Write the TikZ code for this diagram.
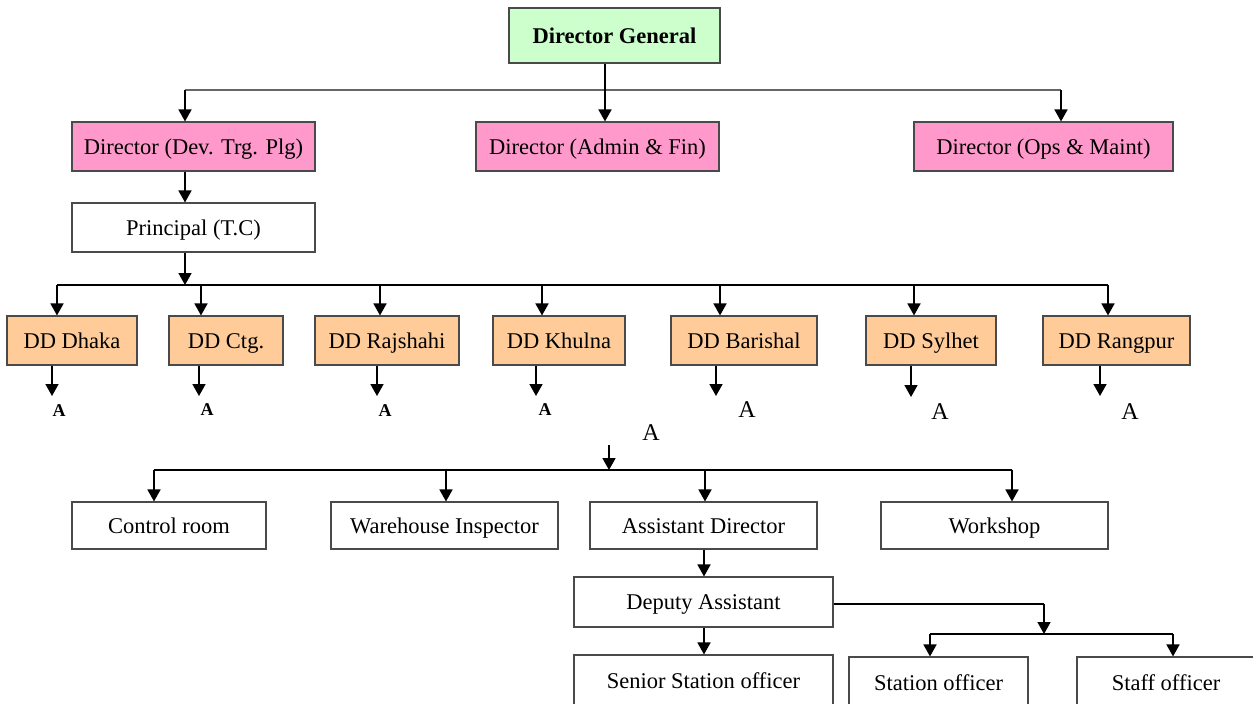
\documentclass[tikz,border=0pt]{standalone}
\usepackage{fontspec}
\setmainfont{Liberation Serif}
\usetikzlibrary{arrows.meta}
\definecolor{dgfill}{HTML}{CCFFCC}
\definecolor{dirfill}{HTML}{FF99CC}
\definecolor{ddfill}{HTML}{FFCC99}
\definecolor{boxline}{HTML}{4A4A4A}
\tikzset{
  box/.style={draw=boxline, line width=1.1pt, inner sep=0pt, align=center,
    text height=17pt, text depth=2pt,
    font=\fontsize{22.5}{26}\selectfont},
  dgbox/.style={box, fill=dgfill, font=\fontsize{22.5}{26}\selectfont\bfseries},
  dirbox/.style={box, fill=dirfill},
  ddbox/.style={box, fill=ddfill, minimum height=49pt},
  plainbox/.style={box, fill=white},
  arr/.style={line width=1.7pt, -{Triangle[length=12pt,width=13pt]}},
  wire/.style={line width=1.7pt},
  topwire/.style={line width=1.6pt, draw=black!60},
  refbold/.style={font=\fontsize{18}{20}\selectfont\bfseries, inner sep=0pt},
  refplain/.style={font=\fontsize{24}{26}\selectfont, inner sep=0pt}
}
\begin{document}
\begin{tikzpicture}[x=1pt, y=-1pt]
\useasboundingbox (0,0) rectangle (1253,704);

% ---- top levels
\node[dgbox, minimum width=211pt, minimum height=55pt] (dg) at (614.5,35.5) {Director General};
\node[dirbox, minimum width=243pt, minimum height=49pt] (dev) at (193.5,146.5) {Director (Dev. Trg. Plg)};
\node[dirbox, minimum width=243pt, minimum height=49pt] (adm) at (597.5,146.5) {Director (Admin \& Fin)};
\node[dirbox, minimum width=259pt, minimum height=49pt] (ops) at (1043.5,146.5) {Director (Ops \& Maint)};
\node[plainbox, minimum width=243pt, minimum height=49pt] (prin) at (193.5,227.5) {Principal (T.C)};

% ---- divisional deputy directors
\node[ddbox, minimum width=130pt] (dhk) at (72,340.5)   {DD Dhaka};
\node[ddbox, minimum width=114pt] (ctg) at (226,340.5)  {DD Ctg.};
\node[ddbox, minimum width=144pt] (raj) at (387,340.5)  {DD Rajshahi};
\node[ddbox, minimum width=132pt] (khu) at (559,340.5)  {DD Khulna};
\node[ddbox, minimum width=146pt] (bar) at (744,340.5)  {DD Barishal};
\node[ddbox, minimum width=130pt] (syl) at (931,340.5)  {DD Sylhet};
\node[ddbox, minimum width=147pt] (rng) at (1116.5,340.5) {DD Rangpur};

% ---- "A" references
\node[refbold] (a1) at (59,411)  {A};
\node[refbold] (a2) at (207,410) {A};
\node[refbold] (a3) at (385,411) {A};
\node[refbold] (a4) at (545,410) {A};
\node[refplain] (a5) at (747,410)  {A};
\node[refplain] (a6) at (940,412)  {A};
\node[refplain] (a7) at (1130,412) {A};
\node[refplain] (am) at (651,433)  {A};

% ---- station level
\node[plainbox, minimum width=194pt, minimum height=47pt] (ctrl) at (169,525.5)   {Control room};
\node[plainbox, minimum width=227pt, minimum height=47pt] (ware) at (444.5,525.5) {Warehouse Inspector};
\node[plainbox, minimum width=227pt, minimum height=47pt] (asst) at (703.5,525.5) {Assistant Director};
\node[plainbox, minimum width=227pt, minimum height=47pt] (work) at (994.5,525.5) {Workshop};
\node[plainbox, minimum width=259pt, minimum height=50pt] (dep) at (703.5,602) {Deputy Assistant};
\node[plainbox, minimum width=259pt, minimum height=52pt] (sso) at (703.5,681) {Senior Station officer};
\node[plainbox, minimum width=179pt, minimum height=52pt] (sto) at (938.5,683) {Station officer};
\node[plainbox, minimum width=178pt, minimum height=52pt] (stf) at (1166,683) {Staff officer};

% ---- bus coordinates
\coordinate (t0) at (605,90);
\coordinate (tL) at (185,90);
\coordinate (tR) at (1061,90);
\coordinate (m0) at (185,285);
\coordinate (mL) at (57,285);
\coordinate (mR) at (1108,285);
\coordinate (s0) at (609,470);
\coordinate (sL) at (154,470);
\coordinate (sR) at (1012,470);
\coordinate (d0) at (1044,634);
\coordinate (dL) at (930,634);
\coordinate (dR) at (1173,634);
\coordinate (dk) at (1044,604);

% ---- Director General to directors
\draw[topwire] (tL) -- (tR);
\draw[arr] (t0 |- dg.south) -- (t0 |- adm.north);
\draw[arr] (tL) -- (tL |- dev.north);
\draw[arr] (tR) -- (tR |- ops.north);

% ---- directors to principal and deputy directors
\draw[arr] (tL |- dev.south) -- (tL |- prin.north);
\draw[arr] (tL |- prin.south) -- (m0);
\draw[wire] (mL) -- (mR);
\draw[arr] (mL) -- (mL |- dhk.north);
\draw[arr] (201,285) -- (201,0 |- ctg.north);
\draw[arr] (380,285) -- (380,0 |- raj.north);
\draw[arr] (542,285) -- (542,0 |- khu.north);
\draw[arr] (720,285) -- (720,0 |- bar.north);
\draw[arr] (914,285) -- (914,0 |- syl.north);
\draw[arr] (mR) -- (mR |- rng.north);

% ---- each deputy director leads to A
\draw[arr] (52,0 |- dhk.south) -- (52,396);
\draw[arr] (199,0 |- ctg.south) -- (199,396);
\draw[arr] (377,0 |- raj.south) -- (377,396);
\draw[arr] (536,0 |- khu.south) -- (536,396);
\draw[arr] (716,0 |- bar.south) -- (716,396);
\draw[arr] (911,0 |- syl.south) -- (911,397);
\draw[arr] (1100,0 |- rng.south) -- (1100,396);

% ---- A to station level
\draw[arr] (609,445) -- (s0);
\draw[wire] (sL) -- (sR);
\draw[arr] (sL) -- (sL |- ctrl.north);
\draw[arr] (446,470) -- (446,0 |- ware.north);
\draw[arr] (705,470) -- (705,0 |- asst.north);
\draw[arr] (sR) -- (sR |- work.north);

% ---- assistant director chain
\draw[arr] (704,0 |- asst.south) -- (704,0 |- dep.north);
\draw[arr] (704,0 |- dep.south) -- (704,0 |- sso.north);
\draw[line width=1.3pt] (dep.east |- dk) -- (dk);
\draw[arr] (dk) -- (d0);
\draw[wire] (dL) -- (dR);
\draw[arr] (dL) -- (dL |- sto.north);
\draw[arr] (dR) -- (dR |- stf.north);
\end{tikzpicture}
\end{document}
